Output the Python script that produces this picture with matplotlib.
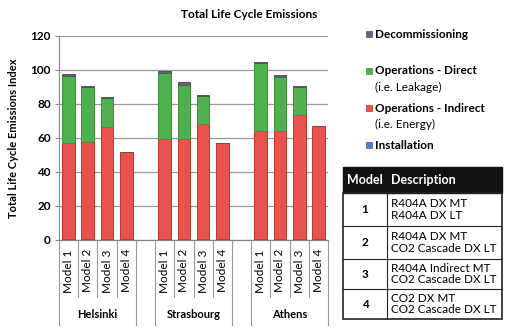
import matplotlib.pyplot as plt
from matplotlib.patches import Rectangle
from matplotlib.lines import Line2D

plt.rcParams['font.family'] = ['Lato', 'DejaVu Sans']

# data
cities = ["Helsinki", "Strasbourg", "Athens"]
models = ["Model 1", "Model 2", "Model 3", "Model 4"]

installation = [0.3, 0.3, 0.3, 0.3,  0.3, 0.3, 0.3, 0.3,  0.3, 0.3, 0.3, 0.3]
indirect = [57.0, 57.3, 66.4, 51.5,  59.0, 59.0, 68.0, 56.5,  64.0, 63.7, 73.2, 66.7]
direct = [39.3, 32.3, 16.6, 0.0,  39.2, 32.0, 16.7, 0.0,  39.7, 31.7, 16.7, 0.0]
decommissioning = [1.0, 0.7, 0.7, 0.2,  0.9, 1.4, 0.5, 0.2,  1.0, 1.3, 0.6, 0.2]

series_names = ["Installation", "Operations - Indirect\n(i.e. Energy)",
                "Operations - Direct\n(i.e. Leakage)", "Decommissioning"]
series_colors = ["#4F81BD", "#E8534D", "#4FB04F", "#6B5C80"]
edge_colors = ["#3A6199", "#B8352F", "#3E9140", "#555555"]

table_models = ["1", "2", "3", "4"]
table_desc = ["R404A DX MT\nR404A DX LT",
              "R404A DX MT\nCO2 Cascade DX LT",
              "R404A Indirect MT\nCO2 Cascade DX LT",
              "CO2 DX MT\nCO2 Cascade DX LT"]

W, H = 506, 330


def fx(x):
    return x / W


def fy(y):
    return 1 - y / H


fig = plt.figure(figsize=(W / 100, H / 100), dpi=100)
ax = fig.add_axes([fx(59), fy(240), fx(328) - fx(59), fy(36) - fy(240)])

# slot positions: 4 bars per city, one empty slot between cities
xpos = []
for g in range(len(cities)):
    for m in range(len(models)):
        xpos.append(g * 5 + m)

bottom = [0.0] * len(xpos)
for vals, c, ec in zip([installation, indirect, direct, decommissioning],
                       series_colors, edge_colors):
    ax.bar(xpos, vals, bottom=bottom, width=0.66, color=c,
           edgecolor=ec, linewidth=0.7, zorder=3)
    bottom = [b + v for b, v in zip(bottom, vals)]

ax.set_xlim(-0.5, 13.5)
ax.set_ylim(0, 120)
ax.set_yticks(range(0, 121, 20))
ax.yaxis.grid(True, color="#999999", linewidth=0.9, zorder=0)
ax.tick_params(axis="y", length=3, color="#888888", labelsize=8.5, pad=3)
for lbl in ax.get_yticklabels():
    lbl.set_fontweight("bold")
ax.set_xticks([])
for s in ["top", "right", "bottom"]:
    ax.spines[s].set_visible(False)
ax.spines["left"].set_color("#888888")
ax.set_ylabel("Total Life Cycle Emissions Index", fontsize=8, fontweight="bold", labelpad=8)

# hierarchical category axis
trans = ax.get_xaxis_transform()
y_mid = -57 / 204
y_low = -85 / 204
ax.plot([-0.5, 13.5], [0, 0], transform=trans, color="#888888", lw=0.9, clip_on=False, zorder=4)
for g in range(len(cities)):
    left = g * 5 - 0.5
    right = g * 5 + 3.5
    for xb in (left, right):
        ax.plot([xb, xb], [0, y_low], transform=trans, color="#999999", lw=0.8, clip_on=False)
    for m in range(1, len(models)):
        xb = g * 5 + m - 0.5
        ax.plot([xb, xb], [0, y_mid], transform=trans, color="#999999", lw=0.8, clip_on=False)
    for m, name in enumerate(models):
        ax.text(g * 5 + m, -0.045, name, transform=trans, rotation=90,
                ha="center", va="top", fontsize=8.5)
    ax.text(g * 5 + 1.5, -75 / 204, cities[g], transform=trans,
            ha="center", va="center", fontsize=8, fontweight="bold")

fig.text(fx(249), fy(14), "Total Life Cycle Emissions", ha="center", va="center",
         fontsize=8.5, fontweight="bold")

# legend
legend_y = [34, 71, 108, 145]
for name, c, ec, yy in zip(series_names[::-1], series_colors[::-1], edge_colors[::-1], legend_y):
    fig.add_artist(Rectangle((fx(366), fy(yy + 3)), fx(6), fy(0) - fy(6),
                             facecolor=c, edgecolor=ec, linewidth=0.5))
    lines = name.split("\n")
    fig.text(fx(375), fy(yy), lines[0], ha="left", va="center",
             fontsize=8.5, fontweight="bold")
    if len(lines) > 1:
        fig.text(fx(375), fy(yy + 16), lines[1], ha="left", va="center", fontsize=8.5)

# model description table
tl, tr, tc = 343, 502, 387
rows_y = [167, 193, 226, 259, 289, 319]
fig.add_artist(Rectangle((fx(tl), fy(rows_y[1])), fx(tr - tl), fy(rows_y[0]) - fy(rows_y[1]),
                         facecolor="#111111", edgecolor="#111111"))
fig.text(fx(347), fy(180), "Model", color="white", fontsize=9, fontweight="bold", va="center")
fig.text(fx(391), fy(180), "Description", color="white", fontsize=9, fontweight="bold", va="center")
fig.add_artist(Rectangle((fx(tl), fy(rows_y[-1])), fx(tr - tl), fy(rows_y[1]) - fy(rows_y[-1]),
                         facecolor="none", edgecolor="#222222", linewidth=1.2))
fig.add_artist(Line2D([fx(tc), fx(tc)], [fy(rows_y[1]), fy(rows_y[-1])], color="#222222", lw=0.8))
for i in range(len(table_models)):
    top, bot = rows_y[i + 1], rows_y[i + 2]
    if i > 0:
        fig.add_artist(Line2D([fx(tl), fx(tr)], [fy(top), fy(top)], color="#222222", lw=0.8))
    mid = (top + bot) / 2
    fig.text(fx(365), fy(mid), table_models[i], ha="center", va="center",
             fontsize=8.5, fontweight="bold")
    fig.text(fx(391), fy(mid), table_desc[i], ha="left", va="center",
             fontsize=8.5, linespacing=1.1)

fig.savefig("out.png", dpi=100)
